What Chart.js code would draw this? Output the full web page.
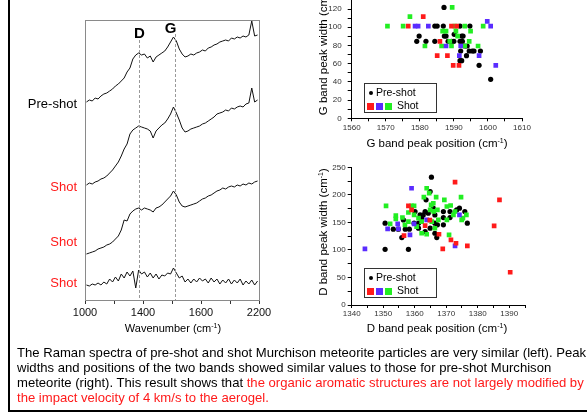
<!DOCTYPE html>
<html>
<head>
<meta charset="utf-8">
<style>
  body { margin:0; width:587px; height:414px; overflow:hidden; background:#fff; position:relative;
         font-family: Arial, "Liberation Sans", sans-serif; }
  .abs { position:absolute; white-space:nowrap; }
  canvas { position:absolute; }
  .lbl { font-size:13px; text-align:right; width:70px; left:7px; }
  .red { color:#ff1a1a; }
  .ytitle { font-size:11.5px; transform:translate(-50%,-50%) rotate(-90deg); }
  .xtitle { font-size:11.5px; transform:translate(-50%,-50%); }
  .legend { border:1px solid #333; width:71px; height:28px; font-size:10.5px; }
  .sq { display:inline-block; width:7px; height:7px; margin-right:2px; vertical-align:-1px; }
</style>
</head>
<body>

<div class="abs" style="left:45px; top:-24px; font-size:21px; font-weight:bold;">Raman spectroscopy</div>
<div class="abs" style="left:8px; top:0; width:2px; height:412px; background:#000;"></div>
<div class="abs" style="left:8px; top:410px; width:579px; height:2px; background:#000;"></div>

<canvas id="spectra" width="290" height="340" style="left:0; top:0;"></canvas>
<canvas id="gband" width="297" height="175" style="left:290px; top:-30px;"></canvas>
<canvas id="dband" width="297" height="182" style="left:290px; top:150px;"></canvas>

<div class="abs lbl" style="top:96px;">Pre-shot</div>
<div class="abs lbl red" style="top:179px;">Shot</div>
<div class="abs lbl red" style="top:234px;">Shot</div>
<div class="abs lbl red" style="top:275px;">Shot</div>
<div class="abs xtitle" style="left:173px; top:328px; font-size:11px;">Wavenumber (cm<sup style="font-size:7px">-1</sup>)</div>

<div class="abs ytitle" style="left:323px; top:51px;">G band peak width (cm<sup style="font-size:7px">-1</sup>)</div>
<div class="abs xtitle" style="left:437px; top:143px;">G band peak position (cm<sup style="font-size:7px">-1</sup>)</div>
<div class="abs ytitle" style="left:323px; top:232px;">D band peak width (cm<sup style="font-size:7px">-1</sup>)</div>
<div class="abs xtitle" style="left:437px; top:328px;">D band peak position (cm<sup style="font-size:7px">-1</sup>)</div>

<div class="abs legend" style="left:364px; top:83px;">
  <div style="margin:2px 0 0 4px;"><span style="display:inline-block;width:4px;height:4px;border-radius:50%;background:#000;margin-right:3px;vertical-align:1px;"></span>Pre-shot</div>
  <div style="margin:1px 0 0 2px;"><span class="sq" style="background:#ff1a1a"></span><span class="sq" style="background:#5a2cff"></span><span class="sq" style="background:#22ee22"></span> Shot</div>
</div>
<div class="abs legend" style="left:364px; top:268px;">
  <div style="margin:2px 0 0 4px;"><span style="display:inline-block;width:4px;height:4px;border-radius:50%;background:#000;margin-right:3px;vertical-align:1px;"></span>Pre-shot</div>
  <div style="margin:1px 0 0 2px;"><span class="sq" style="background:#ff1a1a"></span><span class="sq" style="background:#5a2cff"></span><span class="sq" style="background:#22ee22"></span> Shot</div>
</div>

<div class="abs" style="left:17px; top:345px; font-size:13.1px; line-height:15px;">
The Raman spectra of pre-shot and shot Murchison meteorite particles are very similar (left). Peak<br>
widths and positions of the two bands showed similar values to those for pre-shot Murchison<br>
meteorite (right). This result shows that <span class="red">the organic aromatic structures are not largely modified by</span><br>
<span class="red">the impact velocity of 4 km/s to the aerogel.</span>
</div>

<script src="https://cdn.jsdelivr.net/npm/chart.js"></script>
<script>
  // ---- Raman spectra (left), intensity in arbitrary units ----
  const wavenumbers = [1010,1030,1050,1070,1090,1110,1130,1150,1170,1190,1210,1230,1250,1270,1290,1310,1330,1350,1370,1390,
                       1410,1430,1450,1470,1490,1510,1530,1550,1570,1590,1610,1630,1650,1670,1690,1710,1730,1750,1770,1790,
                       1810,1830,1850,1870,1890,1910,1930,1950,1970,1990,2010,2030,2050,2070,2090,2110,2130,2150,2170,2190];
  const preShot = [198,200,199,202,201,204,206,207,209,211,214,216,219,222,228,232,241,245,247,245,
                   246,242,244,238,243,245,247,249,253,258,263,259,251,246,243,244,246,245,247,248,
                   250,249,252,253,255,256,258,259,260,259,262,261,263,262,264,263,265,279,264,265];
  const shot1 = [115,117,116,118,119,121,122,124,127,130,134,138,144,151,156,166,170,172,174,173,
                 172,171,169,162,169,172,175,177,181,186,193,187,180,172,168,169,171,172,173,174,
                 176,177,179,181,183,186,187,188,190,189,192,191,193,194,193,196,197,212,198,200];
  const shot2 = [46,47,48,49,51,52,53,55,56,58,61,64,70,80,79,86,89,91,92,90,
                 92,91,90,88,92,93,95,98,101,104,109,105,98,94,93,94,95,96,97,99,
                 101,102,104,105,107,109,110,112,111,113,114,113,115,114,116,115,117,116,118,119];
  const shot3 = [15,14,16,15,17,15,18,16,21,18,23,19,26,22,28,24,29,12,30,26,
                 28,23,27,22,26,21,25,24,27,26,32,27,22,24,18,21,17,21,18,22,
                 19,21,17,22,18,21,16,20,17,21,16,20,17,21,15,19,16,20,15,19];
  const spectra = [preShot, shot1, shot2, shot3];
  const bandNames = ['D', 'G'];
  const bandPositions = [1374, 1619];
  const wnTickValues = [1000, 1200, 1400, 1600, 1800, 2000, 2200];
  const wnTickLabels = ['1000', '', '1400', '', '1600', '', '2200'];

  // ---- G band: [position, width] ----
  const gPre = [[1587.1,121.8],[1584.4,101.3],[1585.1,101.3],[1586.9,101.3],[1591.8,101.3],[1594.7,101.3],
                [1579.8,90.3],[1579.1,84.5],[1581.8,84.5],[1584.4,84.5],[1587.2,90.3],[1587.7,90.3],[1590.1,92.2],
                [1588.3,84.5],[1589.3,84.5],[1590,84.5],[1592.3,90.3],[1592.7,90.3],[1591.8,84.5],[1592.5,84.5],
                [1593.2,79.4],[1593.9,79.4],[1592,73.9],[1594.5,73.9],[1595.4,73.9],[1595.9,73.9],[1597.8,73.9],
                [1593.7,68.8],[1591.8,63.3],[1592.3,63.3],[1597.4,58.2],[1600.8,42.8]];
  const gRed = [[1581,111.6],[1576.6,101.3],[1589.3,101.3],[1590.8,101.3],[1585.9,84.5],[1585.1,68.8],
                [1588.1,68.8],[1589.8,58.2],[1591.5,58.2]];
  const gBlue = [[1578.6,101.3],[1579.5,101.3],[1582.5,101.3],[1599.8,106.4],[1600.8,101.3],[1587.7,79.4],
                 [1592,79.4],[1591.6,68.8],[1597.4,68.8],[1602.3,58.2]];
  const gGreen = [[1589.5,121.8],[1577.1,111.6],[1570.5,101.3],[1575.1,101.3],[1590.3,101.3],[1593.2,101.3],
                  [1598.6,101.3],[1586.7,95.8],[1587.7,95.8],[1590.6,95.8],[1594.9,95.8],[1588.8,84.5],
                  [1594.5,84.5],[1581.5,79.4],[1586.4,79.4],[1589.3,79.4],[1593.2,79.4],[1597.1,79.4],[1591.1,90.3]];

  // ---- D band: [position, width] ----
  const dPre = [[1365.3,232],[1364.9,206],[1363.6,191],[1350.6,148.5],[1350.6,101],[1358,101],[1356.4,154.5],
                [1353.2,137.6],[1354.8,137.6],[1357,137.6],[1358.3,137.6],[1355.9,122.4],[1359.8,148.5],
                [1361.2,148.5],[1361.2,139.4],[1360.1,169.7],[1361.7,163.6],[1362.7,163.6],[1362.2,157.6],
                [1363.3,169.7],[1364.3,166.7],[1363.3,133.3],[1365.9,175.8],[1366.4,163.6],[1366.4,148.5],
                [1367.2,145.5],[1364.9,139.4],[1367,122.4],[1366.4,130.3],[1369.1,169.7],[1369.1,158.8],
                [1369.1,145.5],[1371.2,169.7],[1371.2,158.8],[1373.3,172.7],[1374.2,175.8],[1375.9,169.7],[1376.7,148.5]];
  const dRed = [[1372.8,223],[1386.9,191],[1385.2,143.6],[1390.3,59.4],[1358,180],[1359,172.7],[1356.6,126],
                [1363.3,144.2],[1364.8,154],[1367.7,128.5],[1371.5,118.2],[1373.1,112.1],[1368.9,101.8],[1376.7,107.3]];
  const dBlue = [[1344.2,101.8],[1359,212],[1351.4,138.2],[1354.8,138.2],[1354.6,147.3],[1359.8,147.3],
                 [1358.5,127.3],[1363.8,154.5],[1374.2,163.6],[1372.8,107.3]];
  const dGreen = [[1350.9,180],[1352.2,147.3],[1354,162.4],[1354,156.4],[1356.1,158.8],[1359,180],[1359.8,180],
                  [1359.8,163.6],[1361.2,157.6],[1362.2,151.5],[1362.9,195.8],[1363.8,212],[1364.6,203],
                  [1366.8,195.8],[1365.2,181.8],[1365.9,184.8],[1364.9,172.7],[1367.2,172.7],[1369.4,191],
                  [1370.2,178.8],[1371.4,180.6],[1374.7,195.8],[1372.8,169.7],[1372.3,163.6],[1375.3,157.6],
                  [1376.4,163.6],[1374.9,154.5],[1370.9,127.3],[1363.8,128.5],[1362.2,130.3],[1366.4,139.4],
                  [1360.6,142.4],[1365.4,151.5],[1367.5,154.5],[1370.2,154.5],[1358,151.5],[1356.9,145.5],
                  [1358,168],[1366,170]];

  const RED = '#ff1a1a', BLUE = '#5a2cff', GREEN = '#22ee22';
  const FONT = 'Arial, "Liberation Sans", sans-serif';
  Chart.defaults.font.family = FONT;

  // frame + dashed band lines + D/G letters on the spectra panel
  const spectraDeco = {
    id: 'spectraDeco',
    afterDatasetsDraw(chart) {
      const { ctx, chartArea: a, scales: { x } } = chart;
      ctx.save();
      ctx.strokeStyle = '#8a8a8a';
      ctx.lineWidth = 1;
      ctx.strokeRect(a.left + 0.5, a.top + 0.5, a.right - a.left, a.bottom - a.top);
      ctx.setLineDash([3, 2]);
      ctx.strokeStyle = '#999';
      const tops = [20, 14];
      const shifts = [0, -5];
      const letterY = [14, 9];
      bandPositions.forEach((b, i) => {
        const px = Math.round(x.getPixelForValue(b)) + 0.5;
        ctx.beginPath();
        ctx.moveTo(px, a.top + tops[i]);
        ctx.lineTo(px, a.bottom);
        ctx.stroke();
        ctx.fillStyle = '#000';
        ctx.font = 'bold 15px ' + FONT;
        ctx.textAlign = 'center';
        ctx.textBaseline = 'middle';
        ctx.fillText(bandNames[i], px + shifts[i], a.top + letterY[i]);
      });
      ctx.restore();
    }
  };

  new Chart(document.getElementById('spectra'), {
    type: 'line',
    data: {
      datasets: spectra.map(s => ({
        data: s.map((v, i) => ({ x: wavenumbers[i], y: v })),
        borderColor: '#111',
        borderWidth: 1,
        pointRadius: 0,
        tension: 0
      }))
    },
    options: {
      responsive: false,
      animation: false,
      devicePixelRatio: 1,
      layout: { padding: { left: 85, right: 31, top: 20, bottom: 0 } },
      plugins: { legend: { display: false }, tooltip: { enabled: false } },
      scales: {
        x: {
          type: 'linear', min: 1000, max: 2200,
          afterBuildTicks: s => { s.ticks = wnTickValues.map(v => ({ value: v })); },
          afterFit: s => { s.height = 40; },
          grid: { drawOnChartArea: false, tickLength: 4, color: '#333' },
          border: { color: '#8a8a8a' },
          ticks: {
            color: '#111', font: { size: 11 }, padding: 2, maxRotation: 0, autoSkip: false,
            callback: v => wnTickLabels[wnTickValues.indexOf(v)]
          }
        },
        y: { display: false, min: 0, max: 280 }
      }
    },
    plugins: [spectraDeco]
  });

  function scatterChart(id, groups, xr, yr, areaLeft, xAxisH, yPad, xPad) {
    const shotSets = groups.shots.map(([pts, col]) => ({
      data: pts.map(p => ({ x: p[0], y: p[1] })),
      pointStyle: 'rect', pointRadius: 3.3, backgroundColor: col, borderWidth: 0
    }));
    const preSet = {
      data: groups.pre.map(p => ({ x: p[0], y: p[1] })),
      pointStyle: 'circle', pointRadius: 2.6, backgroundColor: '#000', borderWidth: 0
    };
    return new Chart(document.getElementById(id), {
      type: 'scatter',
      data: { datasets: [...shotSets, preSet] },
      options: {
        responsive: false,
        animation: false,
        devicePixelRatio: 1,
        layout: { padding: groups.padding },
        plugins: { legend: { display: false }, tooltip: { enabled: false } },
        scales: {
          x: {
            min: xr[0], max: xr[1],
            afterFit: s => { s.height = xAxisH; },
            grid: { drawOnChartArea: false, tickLength: 3, color: '#000' },
            border: { color: '#000' },
            ticks: {
              stepSize: xr[2], color: '#333', font: { size: 8 }, padding: xPad, maxRotation: 0, autoSkip: false,
              callback: v => ((v - xr[0]) % xr[3] === 0 ? v : '')
            }
          },
          y: {
            min: yr[0], max: yr[1],
            afterFit: s => { s.width = areaLeft; },
            grid: { drawOnChartArea: false, tickLength: 4, color: '#000' },
            border: { color: '#000' },
            ticks: {
              stepSize: yr[2], color: '#333', font: { size: 8 }, padding: yPad, autoSkip: false,
              callback: v => (v % yr[3] === 0 ? v : '')
            }
          }
        }
      }
    });
  }

  scatterChart('gband',
    { pre: gPre, shots: [[gRed, RED], [gBlue, BLUE], [gGreen, GREEN]],
      padding: { left: 0, right: 65, top: 20.8, bottom: 0 } },
    [1560, 1610, 5, 10], [0, 140, 10, 20], 61.7, 26.7, 6, 2);

  scatterChart('dband',
    { pre: dPre, shots: [[dRed, RED], [dBlue, BLUE], [dGreen, GREEN]],
      padding: { left: 0, right: 62, top: 17.3, bottom: 0 } },
    [1340, 1395, 5, 10], [0, 250, 25, 50], 61.7, 27, 2, 1);
</script>
</body>
</html>
